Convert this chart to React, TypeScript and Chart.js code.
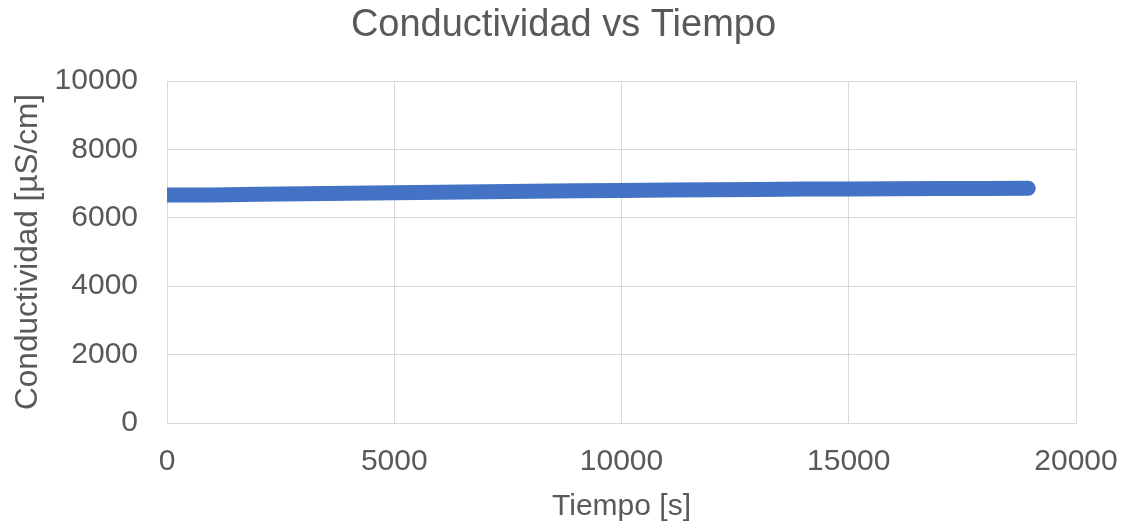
import React, { useEffect, useRef } from "react";
import { Chart, registerables } from "chart.js";

Chart.register(...registerables);

const timeSeconds = [0, 1000, 2000, 3000, 4000, 5000, 6000, 7000, 8000, 9000, 10000, 11000, 12000, 13000, 14000, 15000, 16000, 17000, 18000, 18950];
const conductivity = [6665, 6670, 6690, 6705, 6720, 6735, 6750, 6765, 6775, 6790, 6800, 6810, 6820, 6830, 6840, 6845, 6850, 6855, 6860, 6865];

const titleText = "Conductividad vs Tiempo";
const xTitle = "Tiempo [s]";
const yTitle = "Conductividad [µS/cm]";

export default function App() {
  const ref = useRef<HTMLCanvasElement>(null);
  useEffect(() => {
    if (!ref.current) return;
    const font = "'Liberation Sans', Arial, sans-serif";
    const textColor = "#595959";
    const gridColor = "#d9d9d9";
    const chart = new Chart(ref.current, {
      type: "scatter",
      data: {
        datasets: [
          {
            data: timeSeconds.map((t, i) => ({ x: t, y: conductivity[i] })),
            showLine: true,
            borderColor: "#4472C4",
            backgroundColor: "#4472C4",
            borderWidth: 15,
            borderCapStyle: "round",
            borderJoinStyle: "round",
            pointRadius: 0,
            tension: 0,
            yAxisID: "y",
          },
        ],
      },
      options: {
        responsive: false,
        animation: false,
        layout: { padding: 0 },
        plugins: {
          legend: { display: false },
          tooltip: { enabled: false },
          title: {
            display: true,
            text: titleText,
            color: textColor,
            font: { family: font, size: 38, weight: "normal", lineHeight: 1.2 },
            padding: { top: 3, bottom: 32.4 },
          },
        },
        scales: {
          x: {
            type: "linear",
            min: 0,
            max: 20000,
            ticks: {
              stepSize: 5000,
              color: textColor,
              font: { family: font, size: 30 },
              padding: 21,
              maxRotation: 0,
              callback: (v: any) => String(v),
            },
            grid: { color: gridColor, lineWidth: 1, drawTicks: false },
            border: { color: gridColor },
            title: {
              display: true,
              text: xTitle,
              color: textColor,
              font: { family: font, size: 30, lineHeight: 1.2 },
              padding: 0,
            },
            afterFit: (scale: any) => {
              scale.height = 102;
              scale.paddingLeft = 0;
              scale.paddingRight = 0;
            },
          },
          y: {
            type: "linear",
            position: "left",
            min: 0,
            max: 10000,
            ticks: {
              stepSize: 2000,
              color: textColor,
              font: { family: font, size: 30 },
              padding: 29,
              callback: (v: any) => String(v),
            },
            grid: { color: gridColor, lineWidth: 1, drawTicks: false },
            border: { color: gridColor },
            title: {
              display: true,
              text: yTitle,
              color: textColor,
              font: { family: font, size: 31.5, lineHeight: 1.2 },
              padding: { top: 9, bottom: 0 },
            },
            afterFit: (scale: any) => {
              scale.width = 167;
              scale.paddingTop = 0;
              scale.paddingBottom = 0;
            },
          },
          yRight: {
            type: "linear",
            position: "right",
            min: 0,
            max: 10000,
            ticks: { display: false },
            grid: { display: false, drawTicks: false },
            border: { display: false },
            afterFit: (scale: any) => {
              scale.width = 51;
              scale.paddingTop = 0;
              scale.paddingBottom = 0;
            },
          },
        },
      },
    } as any);
    return () => chart.destroy();
  }, []);
  return (
    <div style={{ position: "absolute", left: 0, top: 0, width: 1127, height: 525, background: "#fff" }}>
      <canvas ref={ref} width={1127} height={525} style={{ display: "block" }} />
    </div>
  );
}
